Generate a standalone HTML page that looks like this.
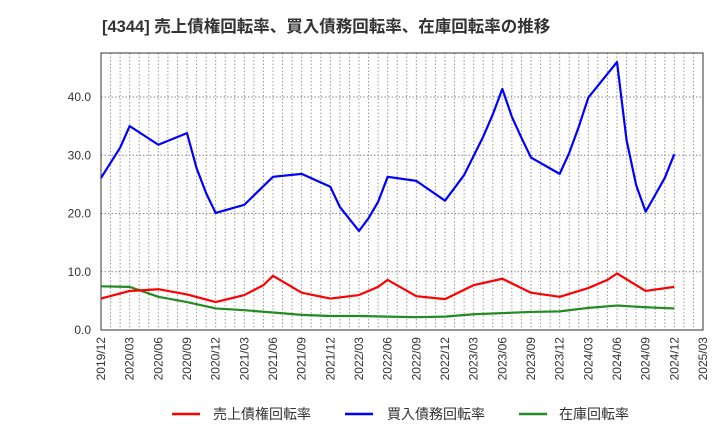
<!DOCTYPE html>
<html><head><meta charset="utf-8"><style>
body{margin:0;background:#fff;width:720px;height:440px;overflow:hidden;font-family:"Liberation Sans","Noto Sans CJK JP",sans-serif}
</style></head><body>
<svg id="chart" width="720" height="440" font-family="Liberation Sans, Noto Sans CJK JP, sans-serif">
<text x="102" y="32" font-size="16.5" font-weight="bold" fill="#333">[4344]  売上債権回転率、買入債務回転率、在庫回転率の推移</text>
<g id="grid"></g><g id="axes"></g><g id="series"></g>
<g font-size="14" fill="#333">
<g><line x1="172" y1="414" x2="200" y2="414" stroke="#ff0000" stroke-width="2.5"/><text x="213" y="419">売上債権回転率</text></g>
<g><line x1="345" y1="414" x2="373" y2="414" stroke="#0000ff" stroke-width="2.5"/><text x="387" y="419">買入債務回転率</text></g>
<g><line x1="519" y1="414" x2="547" y2="414" stroke="#228b22" stroke-width="2.5"/><text x="559" y="419">在庫回転率</text></g>
</g>
</svg>
<script>
const xTickLabels=["2019/12","2020/03","2020/06","2020/09","2020/12","2021/03","2021/06","2021/09","2021/12","2022/03","2022/06","2022/09","2022/12","2023/03","2023/06","2023/09","2023/12","2024/03","2024/06","2024/09","2024/12","2025/03"];
const yTicks=[0,10,20,30,40];
const blueMonths=[0,2,3,6,9,10,11,12,15,18,21,24,25,27,28,29,30,33,36,38,40,41,42,43,44,45,48,49,50,51,54,55,56,57,58,59,60];
const blueValues=[26.1,31.3,35.0,31.8,33.8,27.8,23.5,20.1,21.5,26.3,26.8,24.6,21.1,17.0,19.2,22.0,26.3,25.6,22.2,26.6,33.2,37.0,41.4,36.6,33.0,29.6,26.8,30.4,34.9,39.9,46.0,32.6,24.9,20.3,23.2,26.1,30.2];
const redMonths=[0,3,6,9,12,15,17,18,21,24,27,29,30,33,36,39,42,45,48,51,53,54,57,60];
const redValues=[5.4,6.7,7.0,6.1,4.8,6.0,7.7,9.3,6.4,5.4,6.0,7.4,8.6,5.8,5.3,7.7,8.8,6.4,5.7,7.2,8.6,9.7,6.7,7.4];
const greenMonths=[0,3,6,9,12,15,18,21,24,27,30,33,36,39,42,45,48,51,54,57,60];
const greenValues=[7.5,7.4,5.7,4.8,3.7,3.4,3.0,2.6,2.4,2.4,2.3,2.2,2.3,2.7,2.9,3.1,3.2,3.8,4.2,3.9,3.7];
const L=101,R=703,T=53,B=330,NS="http://www.w3.org/2000/svg";
const xs=m=>L+m*(R-L)/63, ys=v=>B-v*(B-97)/40;
function el(tag,attrs,parent){const e=document.createElementNS(NS,tag);for(const k in attrs)e.setAttribute(k,attrs[k]);parent.appendChild(e);return e;}
const grid=document.getElementById('grid'),axes=document.getElementById('axes'),ser=document.getElementById('series');
for(let m=1;m<63;m++){const g=el('line',{x1:xs(m),x2:xs(m),y1:T,y2:B,stroke:'#999','stroke-dasharray':'1.5,2','stroke-width':1},grid);

}
yTicks.forEach(v=>{if(v>0){const g=el('line',{x1:L,x2:R,y1:ys(v),y2:ys(v),stroke:'#888','stroke-dasharray':'1.5,2','stroke-width':1},grid);

}
const t=el('text',{x:91,y:ys(v)+4,'text-anchor':'end','font-size':12,fill:'#333'},axes);t.textContent=v.toFixed(1);

});
const frame=el('rect',{x:L,y:T,width:R-L,height:B-T,fill:'none',stroke:'#333','stroke-width':1},axes);


xTickLabels.forEach((s,i)=>{const x=xs(i*3);const t=el('text',{x:0,y:0,transform:`translate(${x+4},${337}) rotate(-90)`,'text-anchor':'end','font-size':12,fill:'#333'},axes);t.textContent=s;

});
function line(ms,vs,color,name){const p=el('polyline',{points:ms.map((m,i)=>xs(m)+','+ys(vs[i])).join(' '),fill:'none',stroke:color,'stroke-width':2.2,'stroke-linejoin':'round'},ser);

}
line(greenMonths,greenValues,'#228b22','inventory-turnover-line');
line(redMonths,redValues,'#ff0000','receivables-turnover-line');
line(blueMonths,blueValues,'#0000ff','payables-turnover-line');
</script>
</body></html>
